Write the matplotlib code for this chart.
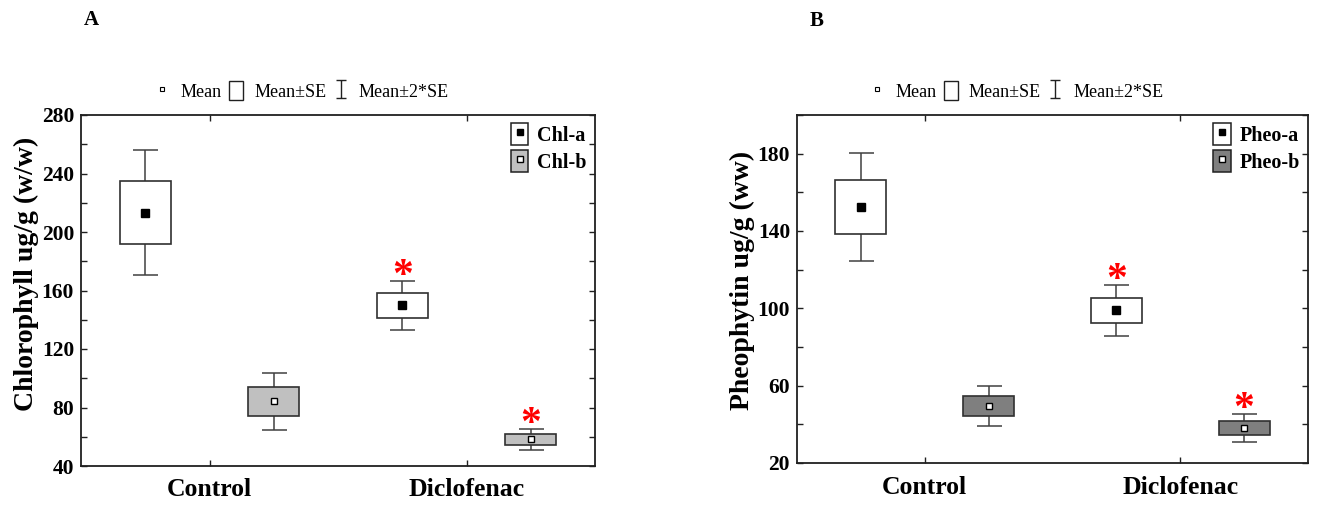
import numpy as np
import matplotlib
matplotlib.use('Agg')
from matplotlib import pyplot as plt
from matplotlib.lines import Line2D
from matplotlib.patches import Rectangle
from matplotlib.path import Path
from matplotlib.ticker import MultipleLocator

# data: means and standard errors
groups = ['Control', 'Diclofenac']

chl_names = ['Chl-a', 'Chl-b']
chl_mean = {'Chl-a': [213.2, 149.9], 'Chl-b': [84.2, 58.2]}
chl_se = {'Chl-a': [21.4, 8.4], 'Chl-b': [9.8, 3.6]}
chl_star = [False, True]
chl_ticks = [40, 80, 120, 160, 200, 240, 280]

pheo_names = ['Pheo-a', 'Pheo-b']
pheo_mean = {'Pheo-a': [152.3, 98.9], 'Pheo-b': [49.4, 38.3]}
pheo_se = {'Pheo-a': [13.9, 6.7], 'Pheo-b': [5.1, 3.6]}
pheo_star = [False, True]
pheo_ticks = [20, 60, 100, 140, 180]

plt.rcParams['font.family'] = ['Liberation Serif', 'DejaVu Serif']

fig = plt.figure(figsize=(13.19, 5.07), dpi=100)
W, H = 1319.0, 507.0
axA = fig.add_axes([81 / W, 1 - 466 / H, 514 / W, 351 / H])
axB = fig.add_axes([797 / W, 1 - 463 / H, 511 / W, 348 / H])

# I-shaped marker for the "Mean±2*SE" key
ibeam = Path([(-0.5, 1), (0.5, 1), (0, 1), (0, -1), (-0.5, -1), (0.5, -1)],
             [Path.MOVETO, Path.LINETO, Path.MOVETO, Path.LINETO, Path.MOVETO, Path.LINETO])


def draw_panel(ax, names, means, ses, star, fills, ylim, yticks, ylabel, label_y, letter, letter_x):
    x = np.arange(len(groups))
    offs = [-0.25, 0.25]
    dots = ['black', 'white']
    for k, nm in enumerate(names):
        m = np.array(means[nm])
        s = np.array(ses[nm])
        xx = x + offs[k]
        ax.errorbar(xx, m, yerr=2 * s, fmt='none', ecolor='#404040', elinewidth=1.1,
                    capsize=9, capthick=1.1, zorder=2)
        ax.bar(xx, 2 * s, bottom=m - s, width=0.2, color=fills[k], edgecolor='#303030',
               linewidth=1.2, zorder=3)
        ax.plot(xx, m, ls='', marker='s', ms=5.5 if k == 0 else 5, mfc=dots[k], mec='black',
                mew=1, zorder=4)
        for i in range(len(groups)):
            if star[i]:
                ax.annotate('*', (xx[i], m[i] + 2 * s[i]), xytext=(0, -11),
                            textcoords='offset points', color='red', fontsize=30,
                            fontweight='bold', ha='center', va='bottom', zorder=5)

    ax.set_xlim(-0.5, 1.5)
    ax.set_ylim(*ylim)
    ax.set_xticks(x)
    ax.set_xticklabels(groups, fontsize=18.5, fontweight='bold')
    ax.set_yticks(yticks)
    ax.yaxis.set_minor_locator(MultipleLocator(20))
    for lab in ax.get_yticklabels():
        lab.set_fontweight('bold')
        lab.set_fontsize(15.5)
    ax.tick_params(axis='both', which='both', direction='in', top=True, right=True,
                   length=4, width=1, color='#202020')
    ax.tick_params(axis='x', pad=9)
    ax.tick_params(axis='y', pad=5)
    ax.set_ylabel(ylabel, fontsize=20, fontweight='bold', labelpad=2)
    ax.yaxis.label.set_y(label_y)
    for sp in ax.spines.values():
        sp.set_linewidth(1.3)
        sp.set_color('#202020')

    # series key, inside top right
    h = []
    for k in range(len(names)):
        box = Rectangle((0, 0), 1, 1, facecolor=fills[k], edgecolor='#202020', linewidth=1.1)
        dot = Line2D([], [], ls='', marker='s', ms=5, mfc=dots[k], mec='black', mew=1)
        h.append((box, dot))
    leg = ax.legend(h, names, loc='upper right', frameon=False, handlelength=0.85,
                    handleheight=1.3, handletextpad=0.45, labelspacing=0.2, borderaxespad=0.2,
                    borderpad=0.2, prop={'weight': 'bold', 'size': 14.5})
    ax.add_artist(leg)

    # statistics key above the plot
    k1 = Line2D([], [], ls='', marker='s', ms=3.5, mfc='white', mec='black', mew=0.8)
    k2 = Rectangle((0, 0), 1, 1, facecolor='white', edgecolor='#202020', linewidth=1)
    k3 = Line2D([], [], ls='', marker=ibeam, ms=13, mec='#202020', mew=1)
    ax.legend([k1, k2, k3], ['Mean', 'Mean±SE', 'Mean±2*SE'], loc='lower center',
              bbox_to_anchor=(0.43, 1.005), ncol=3, frameon=False, handlelength=0.8,
              handleheight=1.3, handletextpad=0.6, columnspacing=0.4, borderaxespad=0.3,
              prop={'size': 13})

    ax.text(letter_x, 1.27, letter, transform=ax.transAxes, fontsize=15, fontweight='bold',
            ha='center', va='center')


draw_panel(axA, chl_names, chl_mean, chl_se, chl_star, ['white', '#c0c0c0'], (40, 280),
           chl_ticks, 'Chlorophyll ug/g (w/w)', 0.547, 'A', 0.021)
draw_panel(axB, pheo_names, pheo_mean, pheo_se, pheo_star, ['white', '#7f7f7f'], (20, 200),
           pheo_ticks, 'Pheophytin ug/g (ww)', 0.526, 'B', 0.039)

fig.savefig('out.png', dpi=100)
